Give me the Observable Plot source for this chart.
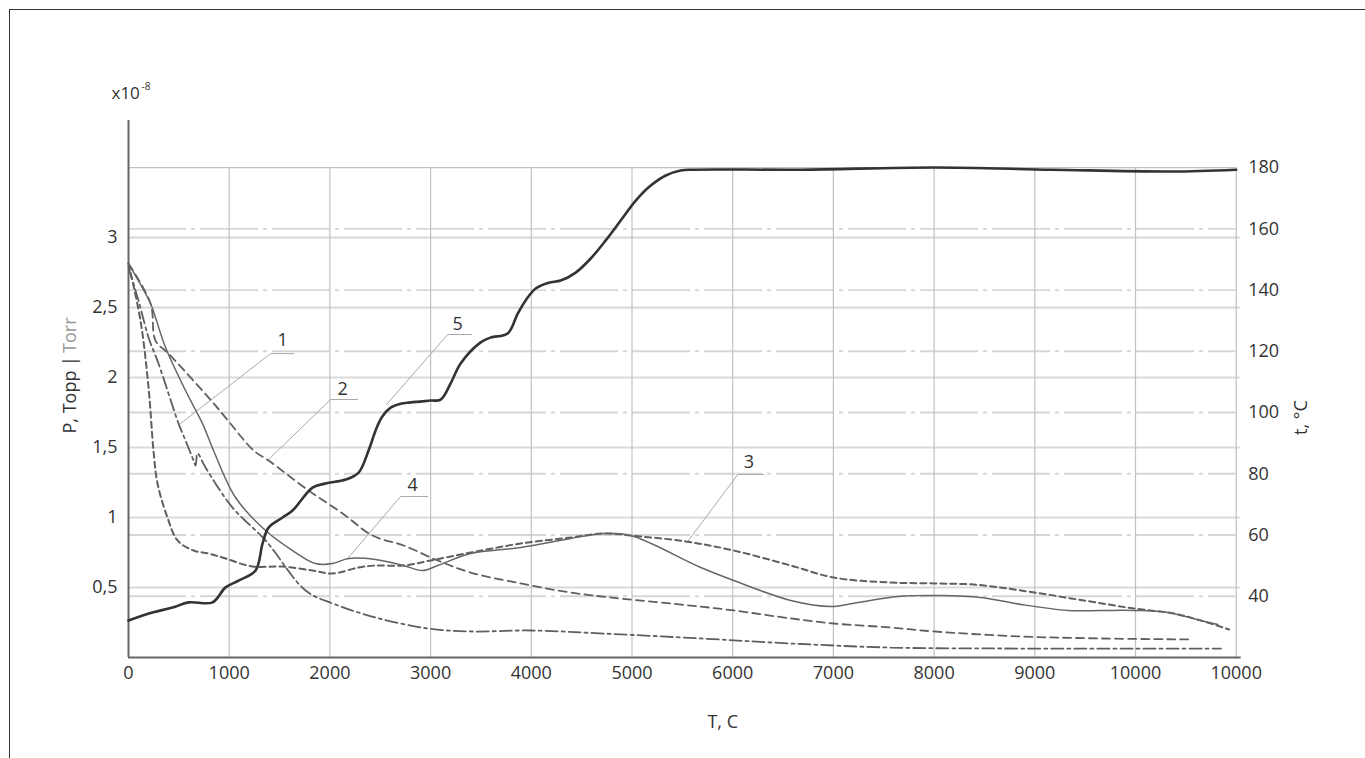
<!DOCTYPE html>
<html><head><meta charset="utf-8">
<script src="https://cdn.jsdelivr.net/npm/d3@7"></script>
<script src="https://cdn.jsdelivr.net/npm/@observablehq/plot@0.6"></script>
<style>
html,body{margin:0;padding:0;background:#fff;overflow:hidden}
#chart{position:absolute;left:0;top:0}
#frame{position:absolute;left:9px;top:9px;width:1400px;height:800px;border-left:1.5px solid #333;border-top:1.5px solid #333;box-sizing:border-box;pointer-events:none}
</style></head><body>
<div id="chart"></div><div id="frame"></div>
<script>
// ---- axis ticks ----
const xTickValues = [0,1000,2000,3000,4000,5000,6000,7000,8000,9000,10000,11000];
const xTickLabels = ["0","1000","2000","3000","4000","5000","6000","7000","8000","9000","10000","10000"];
const leftTickValues = [0.5,1,1.5,2,2.5,3];
const leftTickLabels = ["0,5","1","1,5","2","2,5","3"];
const leftGridValues = [0.5,1,1.5,2,2.5,3];
const rightTickValues = [40,60,80,100,120,140,160,180];
const rightTickLabels = ["40","60","80","100","120","140","160","180"];
const rightGridValues = [40,60,80,100,120,140,160];

// right axis (°C) -> left axis units: 20 °C at 0, 180 °C at 3.5
const tToP = t => (t - 20) * 3.5 / 160;

// ---- curves (T, pressure x1e-8 Torr) ----
const curve1T = [0,99,199,298,497,566,646,666,686,765,1033,1361,1758,2027,2454,2971,3398,3994,4719,5683,6577,7570,8862,10849];
const curve1P = [2.786,2.55,2.286,2.1,1.671,1.55,1.407,1.371,1.457,1.357,1.071,0.836,0.479,0.386,0.286,0.207,0.186,0.193,0.171,0.136,0.1,0.071,0.064,0.064];

const curve2T = [0,219,268,397,795,964,1242,1391,1788,2126,2424,2732,3070,3398,3895,4391,4888,5583,6011,6577,7004,7570,7998,8862,9657,10551];
const curve2P = [2.814,2.529,2.264,2.171,1.857,1.714,1.479,1.407,1.193,1.029,0.871,0.8,0.693,0.607,0.529,0.464,0.421,0.371,0.336,0.279,0.243,0.214,0.186,0.15,0.136,0.129];

const curve3T = [0,119,199,248,288,387,487,646,795,964,1232,1530,1828,2027,2285,2454,2732,3000,3398,3895,4391,4719,4987,5534,6011,6577,7004,7570,7998,8395,8862,9488,9985,10382,10650,10929];
const curve3P = [2.814,2.407,1.929,1.479,1.243,1.0,0.836,0.764,0.743,0.707,0.65,0.65,0.621,0.6,0.643,0.657,0.657,0.693,0.75,0.814,0.857,0.886,0.871,0.829,0.764,0.657,0.571,0.536,0.529,0.521,0.479,0.407,0.35,0.314,0.264,0.2];

const curve4T = [0,219,268,368,566,735,844,1063,1361,1629,1858,2027,2186,2454,2732,2921,3070,3398,3895,4391,4719,4987,5683,6011,6577,6974,7243,7640,8067,8465,8862,9329,9657,9985,10322,10650,10819];
const curve4P = [2.814,2.529,2.429,2.214,1.907,1.671,1.479,1.143,0.907,0.764,0.671,0.671,0.707,0.7,0.657,0.621,0.657,0.743,0.786,0.85,0.886,0.871,0.643,0.55,0.407,0.364,0.393,0.436,0.443,0.429,0.379,0.336,0.336,0.336,0.321,0.264,0.236];

// curve 5: temperature, °C (right axis)
const curve5T = [0,238,437,596,835,964,1093,1262,1331,1391,1530,1629,1828,1957,2156,2285,2384,2454,2514,2603,2702,2802,3000,3100,3199,3298,3497,3596,3765,3865,3944,4043,4173,4292,4441,4590,4739,4888,5037,5186,5335,5484,5603,6676,8008,9160,10352,11000];
const curve5C = [32.1,34.7,36.3,38.0,38.0,42.9,45.1,48.4,57.2,62.4,65.7,68.0,75.5,76.8,78.1,80.4,87.6,94.1,98.4,101.6,102.9,103.3,103.9,104.2,109.5,116.0,122.9,124.5,125.8,132.3,136.6,140.5,142.4,143.1,145.7,150.3,156.2,162.7,169.2,174.1,177.4,179.0,179.3,179.3,180.0,179.3,178.7,179.3];

// ---- callouts ----
const calloutLabels = ["1","2","3","4","5"];
const calloutT = [1530,2126,6160,2822,3269];
const calloutP = [2.264,1.914,1.393,1.229,2.379];
const leaderT = [[517,1411,1639],[1381,2007,2275],[5554,6050,6309],[2176,2702,2971],[2563,3169,3408]];
const leaderP = [[1.671,2.171,2.171],[1.407,1.843,1.843],[0.829,1.307,1.307],[0.707,1.15,1.15],[1.807,2.307,2.307]];

const pts = (T, P) => T.map((t, i) => ({T: t, P: P[i]}));
const xLabel = new Map(xTickValues.map((v, i) => [v, xTickLabels[i]]));
const leftLabel = new Map(leftTickValues.map((v, i) => [v, leftTickLabels[i]]));
const rightTickP = rightTickValues.map(tToP);
const rightLabel = new Map(rightTickP.map((v, i) => [v, rightTickLabels[i]]));
const leaders = leaderT.flatMap((T, k) => T.map((t, i) => ({T: t, P: leaderP[k][i], id: k})));
const callouts = calloutLabels.map((l, i) => ({label: l, T: calloutT[i], P: calloutP[i]}));

const FS = 18;
const lineStroke = "#5f5f5f";
const chart = Plot.plot({
  width: 1365, height: 758,
  marginLeft: 128, marginRight: 129.3, marginTop: 120, marginBottom: 101,
  x: {domain: [0, 11000], axis: null},
  y: {domain: [0, 3.836], axis: null},
  style: {fontFamily: "'Open Sans', sans-serif", fontSize: FS + "px", color: "#333", background: "transparent", overflow: "visible"},
  marks: [
    // grid
    Plot.ruleY(leftGridValues, {x1: 0, x2: 11040, stroke: "#dadada", strokeWidth: 2.2}),
    Plot.ruleY(rightGridValues.map(tToP), {x1: 0, x2: 11000, stroke: "#d6d6d6", strokeWidth: 1.8, strokeDasharray: "58,5,4,5"}),
    Plot.ruleY([3.5], {x1: 0, x2: 11000, stroke: "#bfc0c6", strokeWidth: 1.2}),
    Plot.ruleX(xTickValues.slice(1), {y1: 0, y2: 3.5, stroke: "#bfc1c8", strokeWidth: 1.2}),
    // axes lines
    Plot.ruleX([0], {y1: 0, y2: 3.836, stroke: "#666", strokeWidth: 2}),
    Plot.ruleY([0], {x1: 0, x2: 11050, stroke: "#666", strokeWidth: 2}),
    // tick labels
    Plot.axisX(xTickValues, {anchor: "bottom", tickSize: 0, tickPadding: 9, tickFormat: v => xLabel.get(v), label: null, fontSize: FS}),
    Plot.axisY(leftTickValues, {anchor: "left", tickSize: 0, tickPadding: 11, tickFormat: v => leftLabel.get(v), label: null, fontSize: FS}),
    Plot.axisY(rightTickP, {anchor: "right", tickSize: 0, tickPadding: 12, tickFormat: v => rightLabel.get(v), label: null, fontSize: FS}),
    // leaders
    Plot.line(leaders, {x: "T", y: "P", z: "id", stroke: "#aaa", strokeWidth: 1}),
    // curves
    Plot.line(pts(curve2T, curve2P), {x: "T", y: "P", curve: "catmull-rom", stroke: lineStroke, strokeWidth: 1.8, strokeDasharray: "8,5"}),
    Plot.line(pts(curve1T, curve1P), {x: "T", y: "P", curve: "catmull-rom", stroke: lineStroke, strokeWidth: 1.8, strokeDasharray: "12,4,3,4"}),
    Plot.line(pts(curve3T, curve3P), {x: "T", y: "P", curve: "catmull-rom", stroke: lineStroke, strokeWidth: 2, strokeDasharray: "6,4"}),
    Plot.line(pts(curve4T, curve4P), {x: "T", y: "P", curve: "catmull-rom", stroke: "#666", strokeWidth: 1.5}),
    Plot.line(pts(curve5T, curve5C), {x: "T", y: d => tToP(d.P), curve: "catmull-rom", stroke: "#333", strokeWidth: 2.6}),
    // callout labels
    Plot.text(callouts, {x: "T", y: "P", text: "label", fontSize: FS, fill: "#333"}),
    // multiplier
    Plot.text(["x10"], {x: -169, y: 4.03, text: d => d, textAnchor: "start", fontSize: FS - 1, fill: "#333"}),
    Plot.text(["-8"], {x: 129, y: 4.08, text: d => d, textAnchor: "start", fontSize: 10, fill: "#333"}),
    // axis titles
    Plot.text(["T, C"], {x: 5901, y: -0.464, text: d => d, fontSize: FS, fill: "#333"}),
    Plot.text(["P, Topp |"], {x: -576, y: 1.6, text: d => d, rotate: -90, textAnchor: "start", fontSize: FS, fill: "#333"}),
    Plot.text(["Torr"], {x: -576, y: 2.429, text: d => d, rotate: -90, textAnchor: "end", fontSize: FS, fill: "#999"}),
    Plot.text(["t, °C"], {x: 11644, y: 1.714, text: d => d, rotate: -90, fontSize: FS, fill: "#333"})
  ]
});
document.getElementById("chart").appendChild(chart);
</script></body></html>
